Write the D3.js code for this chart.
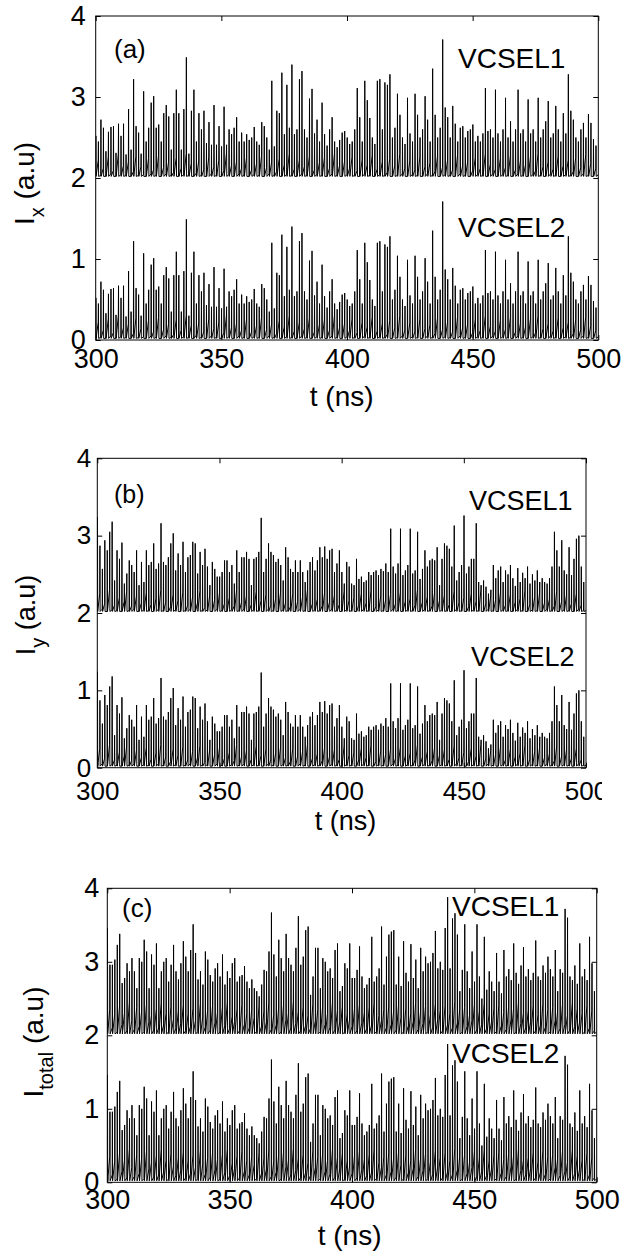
<!DOCTYPE html>
<html><head><meta charset="utf-8">
<script src="https://cdn.jsdelivr.net/npm/d3@7"></script>
<style>body{margin:0;background:#fff}</style>
</head><body>
<svg id="chart" width="623" height="1251"></svg>
<script>
// ---------- data ----------
const tStart = 300, tStep = 1;          // ns, one spike per sample
const vcsel1Shift = 2;                  // VCSEL1 trace is drawn shifted up by 2 a.u.
const floorLevel = 0.02;                // intensity minimum reached after each spike
const xTickValues = [300, 350, 400, 450, 500];
const yTickValues = [0, 1, 2, 3, 4];
const seriesNames = ["VCSEL1", "VCSEL2"];
const panelTags = ["(a)", "(b)", "(c)"];
const ySubscripts = ["x", "y", "total"];
const xAxisTitle = "t (ns)";

// panel (a) Ix: spike peak values (VCSEL2 level), t = 300..499
const peaksA = [
.52,.45,.72,.62,.33,.57,.63,.64,.31,.67,
.52,.67,.29,.85,.35,1.22,.64,.56,.3,1.07,
.45,.62,.93,1.01,.62,.66,.45,.8,.9,.76,
.35,.8,1.09,.8,.35,.85,1.49,.3,.83,1.09,
.45,.8,.6,.83,.43,.69,.41,.9,.41,.64,
.39,.88,.41,.6,.54,.62,.75,.45,.56,.45,
.54,.47,.5,.63,.45,.41,.69,.64,.5,.35,
1.2,.39,.83,.8,1.3,.54,1.15,.62,1.4,.54,
.6,1.22,1.32,.6,.5,.98,1.1,.55,.72,.45,
.93,.54,.4,.6,.75,.45,.38,.47,.56,.58,
.5,.42,.45,.6,1.11,.75,.45,1.2,.96,.74,
.5,.42,1.2,1.22,.6,1.18,1.15,1.28,.5,.62,
1.04,.78,.5,.42,.99,.55,.45,1.04,.78,.5,
.6,1.01,.72,.45,1.35,.78,.5,.62,1.71,.87,
.75,.5,.89,.67,.45,.62,.64,.5,.58,.6,
.66,.45,.52,.45,.55,1.11,.58,.6,.5,1.09,
.55,.45,.6,.99,.5,.7,.45,.6,1.09,.55,
.6,.45,.97,.55,.6,.45,.99,.5,.6,.7,
.95,.5,.55,.89,.6,.45,.8,.55,1.28,.83,
.72,.5,.45,.6,.68,.5,.79,.68,.48,.4];
// level reached just before each spike (relaxation plateau)
const troughsA = [
.04,.22,.03,.12,.02,.26,.05,.09,.02,.3,.04,.15,.03,.2,.02,.08,.27,.03,.14,.04,
.02,.24,.05,.1,.03,.28,.02,.13,.05,.2,.03,.07,.25,.02,.12,.04,.3,.03,.18,.02,
.06,.21,.03,.1,.02,.26,.05,.14,.03,.22,.02,.09,.3,.04,.15,.02,.2,.05,.12,.03,
.25,.02,.1,.04,.18,.03,.28,.02,.13,.05,.2,.03,.08,.24,.02,.16,.04,.3,.03,.11,
.02,.22,.05,.14,.03,.27,.02,.1,.04,.19,.03,.25,.02,.12,.05,.3,.03,.15,.02,.2,
.04,.12,.26,.03,.09,.02,.22,.05,.16,.03,.28,.02,.11,.04,.2,.03,.07,.24,.02,.15,
.03,.3,.05,.12,.02,.21,.04,.1,.03,.26,.02,.14,.05,.19,.03,.08,.27,.02,.13,.04,
.22,.03,.1,.02,.29,.05,.15,.03,.2,.02,.09,.25,.04,.12,.03,.3,.02,.17,.05,.11,
.02,.24,.04,.13,.03,.28,.02,.1,.05,.21,.03,.16,.02,.26,.04,.09,.3,.03,.14,.02,
.2,.05,.11,.03,.27,.02,.15,.04,.22,.03,.08,.25,.02,.13,.05,.29,.03,.18,.02,.12];

// panel (b) Iy
const peaksB = [
1.24,.87,.57,.94,.81,1.05,1.18,.42,.81,.7,
.91,.38,.51,.68,.62,.53,.81,.36,.66,.4,
.81,.62,.66,.9,.57,.64,1.16,.66,.62,.72,
.9,1.03,.55,.77,.62,.92,.53,.72,.75,.92,
.9,.51,.79,.62,.83,.6,.36,.66,.57,.47,
.47,.53,.68,.68,.53,.62,.38,.81,.53,.72,
.72,.79,.7,.36,.7,.72,.79,1.23,.53,.7,
.9,.79,.75,.66,.7,.62,.42,.85,.72,.57,
.53,.68,.53,.68,.53,.4,.55,.66,.72,.55,
.68,.85,.72,.86,.7,.81,.83,.53,.64,.81,
.53,.38,.66,.6,.38,.36,.7,.44,.47,.4,
.42,.53,.49,.53,.55,.49,.57,.54,.64,.53,
1.09,.6,.51,.64,1.09,.49,.55,.62,1.09,.51,
.55,1.05,.44,.57,.81,.6,.68,.7,.68,.85,
.36,.7,.9,.87,.83,.6,1.13,.42,.53,.62,
1.26,.51,.6,.7,.7,1.16,.4,.36,.42,.34,
.25,.3,.62,.45,.55,.6,.4,.55,.5,.62,
.45,.35,.58,.4,.52,.45,.6,.38,.5,.42,
.55,.4,.45,.4,.38,.45,.6,1.05,.81,.6,
.94,.55,.5,.85,.49,.7,.96,1.0,.6,.4];
const troughsB = [
.03,.25,.05,.12,.02,.3,.04,.1,.03,.2,.02,.15,.28,.03,.09,.05,.22,.02,.13,.04,
.26,.03,.11,.02,.19,.05,.3,.03,.14,.02,.08,.24,.04,.16,.02,.27,.03,.1,.05,.21,
.02,.13,.29,.03,.07,.04,.23,.02,.17,.05,.26,.03,.12,.02,.2,.04,.09,.3,.03,.14,
.05,.22,.02,.11,.04,.28,.03,.16,.02,.24,.05,.1,.03,.19,.02,.27,.04,.13,.03,.08,
.25,.02,.15,.05,.21,.03,.3,.02,.12,.04,.18,.03,.09,.26,.02,.14,.05,.23,.03,.11,
.02,.28,.04,.16,.03,.2,.02,.1,.25,.05,.13,.03,.29,.02,.08,.04,.22,.03,.17,.02,
.24,.05,.12,.03,.27,.02,.15,.04,.19,.03,.1,.3,.02,.14,.05,.21,.03,.09,.26,.02,
.16,.04,.23,.03,.11,.02,.28,.05,.13,.03,.2,.02,.08,.25,.04,.15,.03,.3,.02,.12,
.05,.22,.03,.17,.02,.27,.04,.1,.03,.24,.02,.14,.05,.19,.03,.29,.02,.11,.04,.21,
.03,.26,.02,.13,.05,.18,.03,.09,.28,.02,.15,.04,.23,.03,.12,.02,.25,.05,.1,.03];

// panel (c) Itotal
const peaksC = [
1.46,.96,.96,1.03,1.23,1.38,.71,.78,.98,.87,
1.05,.87,.64,1.05,1.0,1.3,1.14,.64,1.1,.96,
1.25,.64,.87,1.0,1.05,.73,.96,1.23,.87,.76,
.98,1.28,1.07,.87,1.16,1.51,1.12,.76,.87,.69,
1.14,1.03,.82,.73,.91,.98,.8,1.1,.69,.87,
.78,.98,1.05,.73,.8,.82,.94,.73,.64,.76,
.64,.6,.53,.69,.89,.87,1.14,1.67,1.1,.8,
1.3,1.05,.87,1.38,1.05,.96,.87,1.19,1.62,.96,
1.07,1.43,1.48,.55,.8,1.19,1.19,.64,1.05,1.0,
.87,.91,.78,1.16,1.25,.6,.67,.98,.91,1.25,
.78,.78,.89,1.21,.8,.64,.69,.78,1.34,.73,
.8,.91,1.48,.69,1.07,1.37,1.41,1.43,.69,1.07,
.67,1.28,.85,.73,1.24,.78,1.03,.64,1.19,.87,
1.07,.98,1.0,1.12,1.42,.91,1.0,.89,1.46,1.88,
.91,1.59,1.66,1.37,.6,.89,1.51,.87,.64,1.14,
.73,1.51,.8,.5,1.34,.62,.87,.73,.6,1.12,
.73,.57,1.16,.8,.9,.75,1.25,.85,.7,.95,
1.2,.8,.9,.75,.85,1.29,.8,.75,.95,.85,
1.07,.9,.8,1.16,.6,.9,.85,1.72,1.6,.8,
.75,.95,.7,1.25,.8,.9,.75,1.34,.98,.6];
const troughsC = [
.05,.35,.1,.28,.04,.4,.15,.3,.06,.45,.2,.08,.38,.12,.32,.05,.42,.18,.27,.07,
.36,.1,.44,.14,.3,.04,.39,.22,.09,.33,.16,.41,.06,.29,.12,.37,.2,.05,.43,.25,
.11,.34,.07,.4,.17,.31,.04,.38,.13,.45,.09,.26,.19,.36,.06,.42,.15,.3,.1,.35,
.24,.05,.4,.12,.33,.18,.44,.08,.28,.14,.37,.04,.41,.21,.3,.1,.46,.16,.32,.06,
.38,.13,.27,.09,.43,.2,.35,.05,.4,.15,.3,.11,.45,.07,.34,.18,.39,.04,.29,.22,
.12,.36,.06,.42,.17,.31,.09,.38,.14,.44,.05,.27,.2,.35,.1,.4,.15,.33,.07,.41,
.24,.04,.37,.13,.3,.19,.45,.08,.32,.16,.39,.05,.28,.11,.43,.21,.34,.06,.4,.14,
.3,.1,.46,.17,.35,.04,.38,.12,.27,.2,.42,.07,.33,.15,.44,.09,.29,.18,.37,.05,
.41,.13,.31,.08,.39,.22,.36,.04,.45,.16,.3,.1,.34,.19,.4,.06,.28,.14,.43,.11,
.35,.05,.38,.2,.32,.09,.42,.15,.27,.07,.44,.12,.36,.18,.3,.04,.4,.1,.33,.06];

// ---------- layout ----------
const FONT = "Arial, 'Liberation Sans', Helvetica, sans-serif";
const layouts = [
  {peaks: peaksA, troughs: troughsA, x0: 95.7, x1: 598.3, yT: 16, yB: 340,
   tfs: 27, lfs: 28, gfs: 26, xPad: 9, yPad: 10, xtX: 341.7, xtY: 406, ytX: 34, ytY: 183.5,
   tagX: 114, tagY: 58, l1X: 458, l1Y: 68, l2X: 458, l2Y: 236.5, clip: null},
  {peaks: peaksB, troughs: troughsB, x0: 97.3, x1: 586, yT: 458.3, yB: 767.7,
   tfs: 26, lfs: 27, gfs: 25, xPad: 14, yPad: 6, xtX: 345.6, xtY: 830, ytX: 35, ytY: 615,
   tagX: 114, tagY: 503, l1X: 469, l1Y: 510, l2X: 471, l2Y: 666, clip: 602},
  {peaks: peaksC, troughs: troughsC, x0: 107.3, x1: 596.7, yT: 888.3, yB: 1182.3,
   tfs: 27, lfs: 28, gfs: 26, xPad: 8, yPad: 8, xtX: 349.6, xtY: 1245, ytX: 43, ytY: 1042,
   tagX: 122, tagY: 917, l1X: 452, l1Y: 916, l2X: 452, l2Y: 1063, clip: null}
];

const svg = d3.select('#chart');
const defs = svg.append('defs');

layouts.forEach((L, k) => {
  const g = svg.append('g');
  if (L.clip) {
    defs.append('clipPath').attr('id', 'pclip' + k)
      .append('rect').attr('x', 0).attr('y', L.yT - 40).attr('width', L.clip).attr('height', 420);
    g.attr('clip-path', `url(#pclip${k})`);
  }
  const x = d3.scaleLinear().domain([xTickValues[0], xTickValues[xTickValues.length - 1]]).range([L.x0, L.x1]);
  const y = d3.scaleLinear().domain([yTickValues[0], yTickValues[yTickValues.length - 1]]).range([L.yB, L.yT]);

  defs.append('clipPath').attr('id', 'area' + k)
    .append('rect').attr('x', L.x0).attr('y', L.yT).attr('width', L.x1 - L.x0).attr('height', L.yB - L.yT);

  // trace: plateau -> sharp spike -> floor, then slow recovery to the next plateau
  const pts = [];
  L.peaks.forEach((p, i) => {
    const t = tStart + i * tStep;
    pts.push([t, L.troughs[i]]);
    pts.push([t + 0.08 * tStep, p]);
    pts.push([t + 0.16 * tStep, floorLevel]);
  });
  pts.push([tStart + L.peaks.length * tStep, L.troughs[0]]);

  const line = d3.line().x(d => x(d[0])).y(d => y(d[1]));
  const plot = g.append('g').attr('clip-path', `url(#area${k})`);
  plot.append('path').datum(pts).attr('d', line)
    .attr('fill', 'none').attr('stroke', '#000').attr('stroke-width', 1);
  plot.append('path').datum(pts.map(d => [d[0], d[1] + vcsel1Shift])).attr('d', line)
    .attr('fill', 'none').attr('stroke', '#000').attr('stroke-width', 1);

  // axes
  const styleAxis = sel => {
    sel.select('.domain').remove();
    sel.attr('font-family', FONT).attr('font-size', L.tfs);
    sel.selectAll('line').attr('stroke', '#000');
    sel.selectAll('text').attr('fill', '#000');
  };
  g.append('g').attr('transform', `translate(0,${L.yB})`)
    .call(d3.axisBottom(x).tickValues(xTickValues).tickSize(-5).tickPadding(L.xPad).tickFormat(d3.format('d')))
    .call(styleAxis);
  g.append('g').attr('transform', `translate(0,${L.yT})`)
    .call(d3.axisTop(x).tickValues(xTickValues).tickSize(-5).tickFormat(''))
    .call(styleAxis);
  g.append('g').attr('transform', `translate(${L.x0},0)`)
    .call(d3.axisLeft(y).tickValues(yTickValues).tickSize(-5).tickPadding(L.yPad).tickFormat(d3.format('d')))
    .call(styleAxis);
  g.append('g').attr('transform', `translate(${L.x1},0)`)
    .call(d3.axisRight(y).tickValues(yTickValues).tickSize(-5).tickFormat(''))
    .call(styleAxis);

  g.append('rect').attr('x', L.x0).attr('y', L.yT)
    .attr('width', L.x1 - L.x0).attr('height', L.yB - L.yT)
    .attr('fill', 'none').attr('stroke', '#000').attr('stroke-width', 1);

  // titles
  g.append('text').attr('x', L.xtX).attr('y', L.xtY).attr('text-anchor', 'middle')
    .attr('font-family', FONT).attr('font-size', L.lfs).text(xAxisTitle);

  const yt = g.append('text').attr('transform', `translate(${L.ytX},${L.ytY}) rotate(-90)`)
    .attr('text-anchor', 'middle').attr('font-family', FONT).attr('font-size', L.lfs);
  yt.append('tspan').text('I');
  yt.append('tspan').attr('font-size', 20).attr('dy', 10).text(ySubscripts[k]);
  yt.append('tspan').attr('dy', -10).text('\u00a0(a.u)');

  g.append('text').attr('x', L.tagX).attr('y', L.tagY)
    .attr('font-family', FONT).attr('font-size', L.gfs).text(panelTags[k]);
  g.append('text').attr('x', L.l1X).attr('y', L.l1Y)
    .attr('font-family', FONT).attr('font-size', L.lfs).text(seriesNames[0]);
  g.append('text').attr('x', L.l2X).attr('y', L.l2Y)
    .attr('font-family', FONT).attr('font-size', L.lfs).text(seriesNames[1]);
});
</script>
</body></html>
